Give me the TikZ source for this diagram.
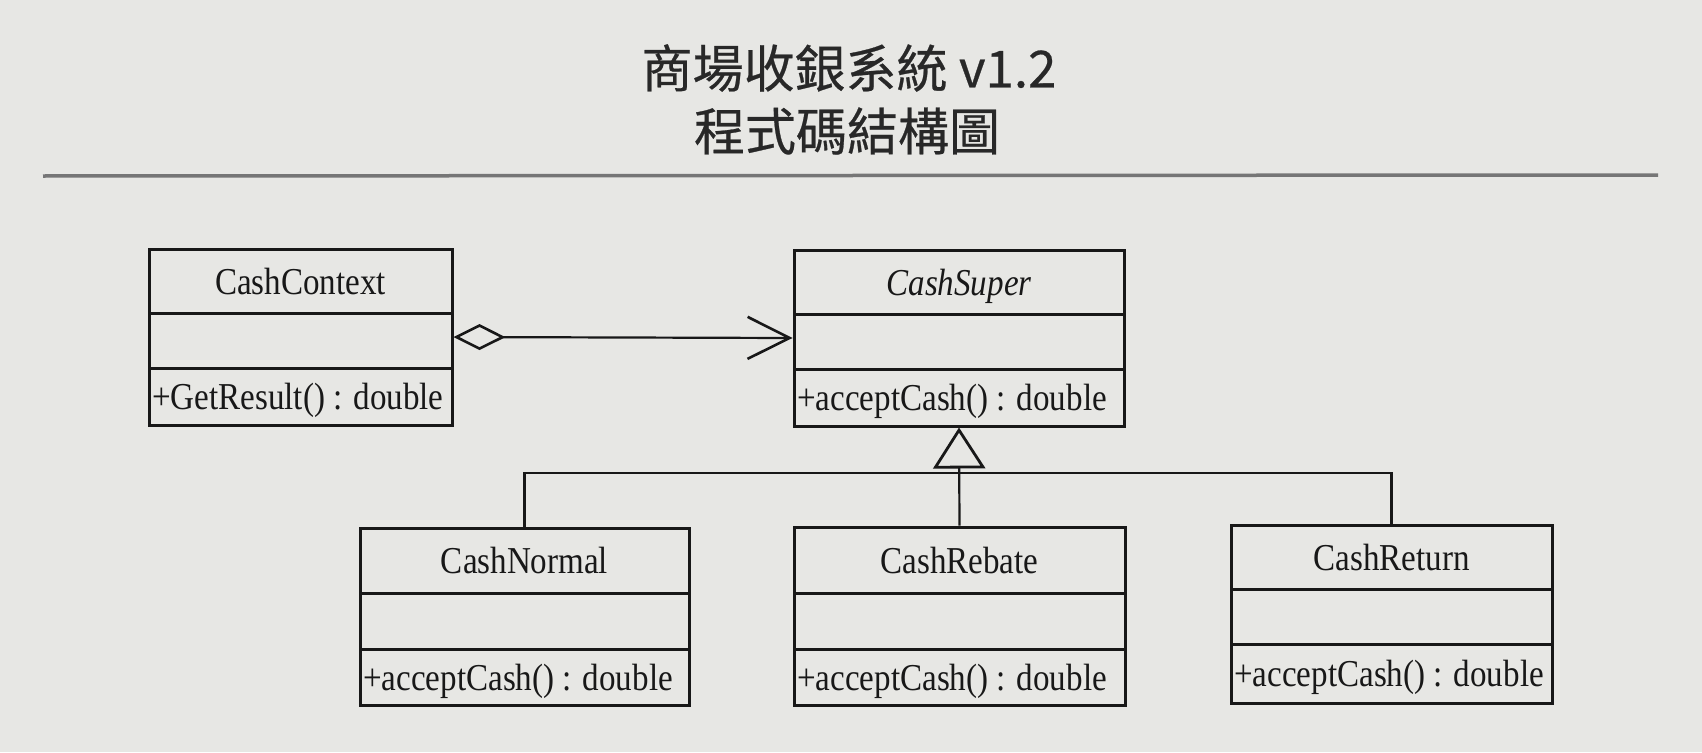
\documentclass[tikz,border=0pt]{standalone}
\usepackage{fontspec}
\setmainfont{Liberation Serif}
\newfontfamily\cjkfont[FakeBold=0.5]{Noto Sans CJK TC}
\newfontfamily\umlfont[FakeStretch=0.87]{Liberation Serif}
\usetikzlibrary{arrows.meta}
\definecolor{paper}{RGB}{231,231,228}
\definecolor{ink}{RGB}{24,24,24}
\definecolor{titleink}{RGB}{40,40,40}
\definecolor{rulegray}{RGB}{118,118,118}
\tikzset{
  classbox/.style={draw=ink, line width=3pt, inner sep=0pt, rectangle},
  classline/.style={draw=ink, line width=3pt},
  nametext/.style={font=\umlfont\fontsize{38pt}{42pt}\selectfont, text=ink, inner sep=0pt, anchor=base},
  methtext/.style={font=\umlfont\fontsize{38pt}{42pt}\selectfont, text=ink, inner sep=0pt, anchor=base west},
  conn/.style={draw=ink, line width=2.2pt},
  titletext/.style={font=\cjkfont\fontsize{51pt}{56pt}\selectfont, text=titleink, inner sep=0pt},
  titlerule/.style={draw=rulegray, line width=3.5pt},
}
% #1 name, #2 left, #3 top, #4 right, #5 bottom, #6 divider1, #7 divider2, #8 title, #9 operation
\newcommand\umlclass[9]{%
  \node[classbox, minimum width={#4pt-#2pt}, minimum height={#5pt-#3pt}] (#1) at ({(#2+#4)/2},{(#3+#5)/2}) {};
  \draw[classline] (#2,#6) -- (#4,#6);
  \draw[classline] (#2,#7) -- (#4,#7);
  \node[nametext] (#1-name) at ({(#2+#4)/2},{(#3+#6)/2+13}) {#8};
  \node[methtext] (#1-op) at ({#2+3},{(#7+#5)/2+13}) {#9};
}
\begin{document}
\begin{tikzpicture}[x=1pt,y=-1pt]
  \useasboundingbox (0,0) rectangle (1702,752);
  \fill[paper] (0,0) rectangle (1702,752);

  % title
  \node[titletext] (t1) at (849,68) {商場收銀系統 v1.2};
  \node[titletext] (t2) at (847,131) {程式碼結構圖};
  \coordinate (ruleL) at (43,176);
  \coordinate (ruleR) at (1658,175);
  \draw[titlerule] (ruleL) -- (ruleR);

  % classes
  \umlclass{ctx}{149}{249}{452}{425}{313}{368}{CashContext}{+GetResult() : double}
  \umlclass{sup}{794}{250}{1124}{426}{314}{369}{\itshape CashSuper}{+acceptCash() : double}
  \umlclass{nor}{360}{528}{689}{705}{593}{649}{CashNormal}{+acceptCash() : double}
  \umlclass{reb}{794}{527}{1125}{705}{593}{649}{CashRebate}{+acceptCash() : double}
  \umlclass{ret}{1231}{525}{1552}{703}{589}{644}{CashReturn}{+acceptCash() : double}

  % aggregation / association
  \draw[conn, {Diamond[open, length=52pt, width=26pt, line width=2.6pt]}-{Straight Barb[length=42pt, width=42pt, line width=2.6pt]}]
    (ctx.east) -- (sup.west);

  % generalization
  \coordinate (bus) at (959,473);
  \draw[conn, -{Triangle[open, length=41pt, width=52pt, line width=2.8pt]}] (reb.north) -- (sup.south);
  \draw[conn] (nor.north) -- (nor.north |- bus) -- (ret.north |- bus) -- (ret.north);
\end{tikzpicture}
\end{document}
